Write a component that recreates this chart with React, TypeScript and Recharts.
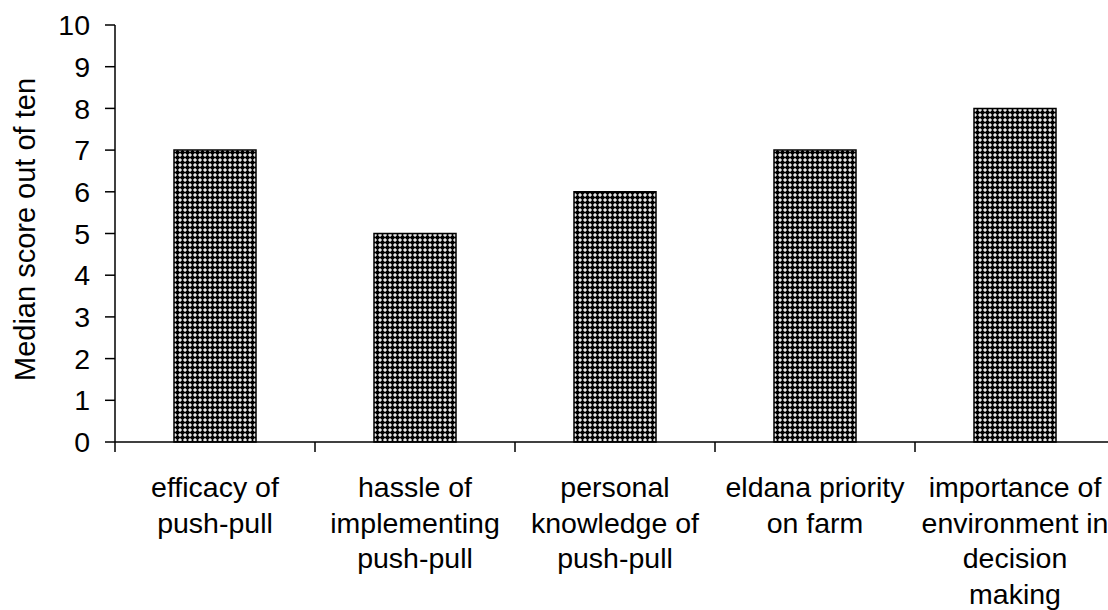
import { BarChart, Bar, XAxis, YAxis, Label } from 'recharts';

const categories = [
  'efficacy of\npush-pull',
  'hassle of\nimplementing\npush-pull',
  'personal\nknowledge of\npush-pull',
  'eldana priority\non farm',
  'importance of\nenvironment in\ndecision\nmaking',
];
const medianScores = [7, 5, 6, 7, 8];
const yTicks = [0, 1, 2, 3, 4, 5, 6, 7, 8, 9, 10];

const data = categories.map((name, i) => ({ name, score: medianScores[i] }));

const FONT = '"Liberation Sans", Arial, sans-serif';

const CategoryTick = (props: any) => {
  const { x, y, payload, index, width } = props;
  const half = (width || 1000) / categories.length / 2;
  const lines = String(payload.value).split('\n');
  return (
    <g>
      <line x1={x - half} y1={y - 8} x2={x - half} y2={y + 2} stroke="#000" strokeWidth={1.5} />
      {index === categories.length - 1 && (
        <line x1={x + half} y1={y - 8} x2={x + half} y2={y + 2} stroke="#000" strokeWidth={1.5} />
      )}
      <text x={x} y={y} textAnchor="middle" fontFamily={FONT} fontSize={28.5} fill="#000">
        {lines.map((ln, i) => (
          <tspan key={i} x={x} dy={i === 0 ? 47 : 35.5}>
            {ln}
          </tspan>
        ))}
      </text>
    </g>
  );
};

export default function App() {
  return (
    <div style={{ position: 'absolute', left: 0, top: 0, width: 1108, height: 610, overflow: 'hidden', background: '#fff' }}>
      <BarChart
        width={1115}
        height={610}
        data={data}
        margin={{ top: 25, right: 0, bottom: 0, left: 0 }}
        barCategoryGap="29.5%"
      >
        <defs>
          <pattern id="hatch" width="5" height="5" patternUnits="userSpaceOnUse" shapeRendering="crispEdges">
            <rect width="5" height="5" fill="#000" />
            <rect x="0" y="0" width="1" height="1" fill="#e6e6e6" />
            <rect x="4" y="0" width="1" height="1" fill="#e6e6e6" />
            <rect x="0" y="4" width="1" height="1" fill="#e6e6e6" />
            <rect x="4" y="4" width="1" height="1" fill="#e6e6e6" />
            <rect x="1" y="0" width="1" height="1" fill="#8c8c8c" />
            <rect x="3" y="0" width="1" height="1" fill="#8c8c8c" />
            <rect x="1" y="4" width="1" height="1" fill="#8c8c8c" />
            <rect x="3" y="4" width="1" height="1" fill="#8c8c8c" />
            <rect x="0" y="1" width="1" height="1" fill="#8c8c8c" />
            <rect x="4" y="1" width="1" height="1" fill="#8c8c8c" />
            <rect x="0" y="3" width="1" height="1" fill="#8c8c8c" />
            <rect x="4" y="3" width="1" height="1" fill="#8c8c8c" />
          </pattern>
        </defs>
        <XAxis
          dataKey="name"
          height={168}
          interval={0}
          tickLine={false}
          axisLine={{ stroke: '#000', strokeWidth: 1.5 }}
          tick={<CategoryTick />}
        />
        <YAxis
          width={115}
          domain={[0, 10]}
          ticks={yTicks}
          interval={0}
          tickSize={10}
          tickMargin={15}
          tickLine={{ stroke: '#000', strokeWidth: 1.5 }}
          axisLine={{ stroke: '#000', strokeWidth: 1.5 }}
          tick={{ fill: '#000', fontSize: 28.5, fontFamily: FONT }}
        >
          <Label
            content={({ viewBox }: any) => {
              const cx = 35;
              const cy = viewBox.y + viewBox.height / 2 - 4;
              return (
                <text
                  x={cx}
                  y={cy}
                  transform={`rotate(-90 ${cx} ${cy})`}
                  textAnchor="middle"
                  fontFamily={FONT}
                  fontSize={29}
                  fill="#000"
                >
                  Median score out of ten
                </text>
              );
            }}
          />
        </YAxis>
        <Bar dataKey="score" fill="url(#hatch)" stroke="#000" strokeWidth={1.5} isAnimationActive={false} />
      </BarChart>
    </div>
  );
}
